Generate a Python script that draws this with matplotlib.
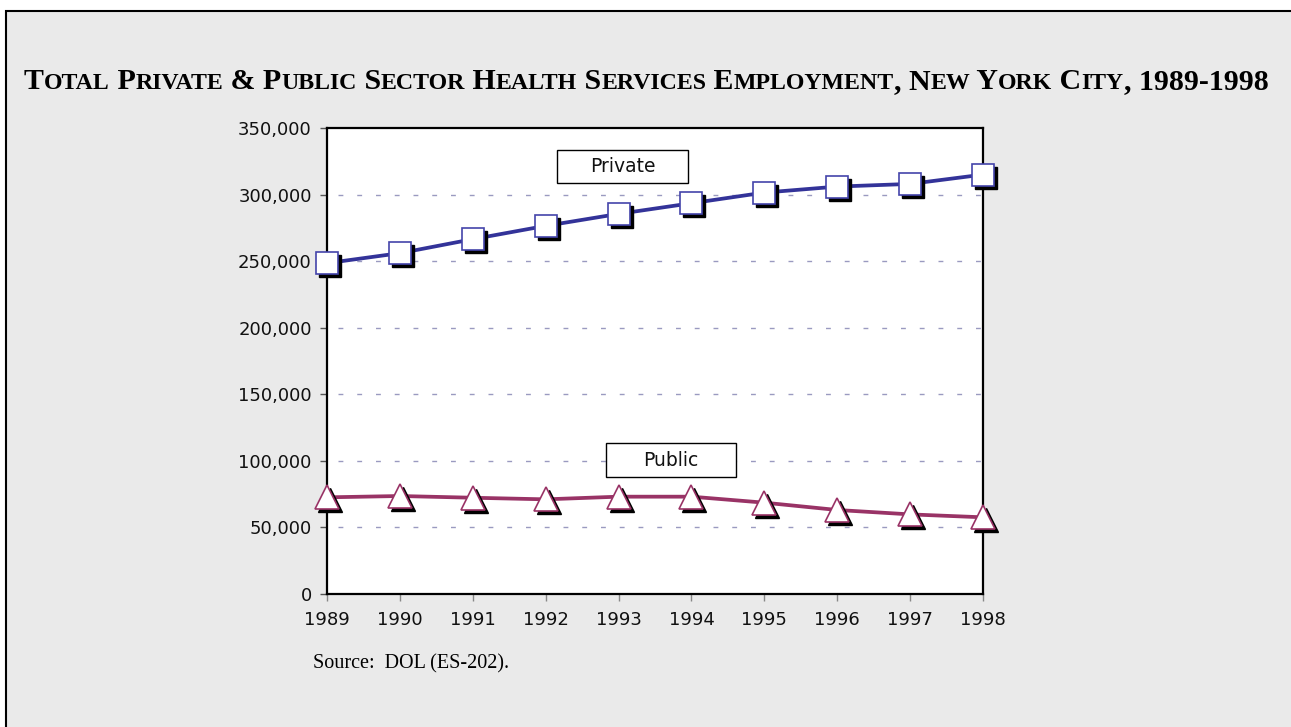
import matplotlib
matplotlib.use('Agg')
import matplotlib.pyplot as plt
import matplotlib.patches as mpatches
import matplotlib.transforms as mtransforms
from matplotlib.ticker import FuncFormatter

# ── Colors ──
C_PRIV = '#333399'
C_PUB = '#993366'
C_BG = '#EAEAEA'
C_GRID = '#9A9AC0'

# ── Data ──
years = [1989, 1990, 1991, 1992, 1993, 1994, 1995, 1996, 1997, 1998]
private = [248500, 256000, 266500, 276500, 285500, 293500, 301500, 306000, 308000, 315000]
public = [72600, 73600, 72300, 71100, 73100, 73100, 68600, 63100, 59800, 57600]
yticks = [0, 50000, 100000, 150000, 200000, 250000, 300000, 350000]

W, H = 1291, 727
fig = plt.figure(figsize=(W / 100, H / 100), dpi=100)
fig.patch.set_facecolor('white')

# grey page frame (only top/left edges visible)
frame = mpatches.Rectangle((5.5 / W, -0.05), 1.2, 716.5 / H + 0.05,
                           transform=fig.transFigure, facecolor=C_BG,
                           edgecolor='black', linewidth=1.5, zorder=0)
fig.add_artist(frame)

# ── Title in small caps, built run by run ──
title = 'Total Private & Public Sector Health Services Employment, New York City, 1989-1998'
runs = []
for ch in title:
    small = ch.islower()
    if runs and runs[-1][1] == small:
        runs[-1][0] += ch
    else:
        runs.append([ch, small])

BIG, SMALL = 21.5, 17.2
base_y = H - 89
prev = None
for txt, small in runs:
    kw = dict(fontsize=SMALL if small else BIG, fontweight='bold',
              family='Liberation Serif', color='black', va='baseline', ha='left')
    if prev is None:
        prev = fig.text(24 / W, base_y / H, txt.upper(), **kw)
    else:
        prev = fig.add_artist(plt.Annotation(txt.upper(), xy=(1, base_y),
                                             xycoords=(prev, 'figure pixels'), **kw))

# ── Axes ──
ax = fig.add_axes([327 / W, 133 / H, 656 / W, 466 / H])
ax.set_facecolor('white')
ax.set_xlim(1989, 1998)
ax.set_ylim(0, 350000)

ax.set_yticks(yticks)
ax.yaxis.set_major_formatter(FuncFormatter(lambda v, p: f'{v:,.0f}'))
ax.set_xticks(years)
ax.tick_params(axis='y', length=5, width=1, color='#555555', pad=6,
               labelsize=13, labelcolor='#111111')
ax.tick_params(axis='x', length=5, width=1, color='#888888', pad=7,
               labelsize=13, labelcolor='#111111')
for lab in ax.get_xticklabels() + ax.get_yticklabels():
    lab.set_family('DejaVu Sans')

for s in ax.spines.values():
    s.set_color('black')
    s.set_linewidth(1.6)

for v in yticks[1:-1]:
    ax.plot([1989.15, 1998], [v, v], color=C_GRID, lw=1,
            linestyle=(0, (3.5, 10)), zorder=1)

shadow = mtransforms.offset_copy(ax.transData, fig=fig, x=3, y=-3, units='dots')

# Private
ax.plot(years, private, color=C_PRIV, lw=2.7, zorder=3, clip_on=False)
ax.plot(years, private, linestyle='none', marker='s', ms=16.5, mfc='black',
        mec='black', transform=shadow, zorder=4, clip_on=False)
ax.plot(years, private, linestyle='none', marker='s', ms=16.5, mfc='white',
        mec='#4444AA', mew=1.2, zorder=5, clip_on=False)

# Public
ax.plot(years, public, color=C_PUB, lw=2.7, zorder=3, clip_on=False)
ax.plot(years, public, linestyle='none', marker='^', ms=17.5, mfc='black',
        mec='black', transform=shadow, zorder=4, clip_on=False)
ax.plot(years, public, linestyle='none', marker='^', ms=17.5, mfc='white',
        mec=C_PUB, mew=1.2, zorder=5, clip_on=False)

# series label boxes
for (x0, y0, w, h), name in [((0.3506, 0.882, 0.1997, 0.0708), 'Private'),
                             ((0.4253, 0.251, 0.198, 0.073), 'Public')]:
    ax.add_patch(mpatches.Rectangle((x0, y0), w, h, transform=ax.transAxes,
                                    facecolor='white', edgecolor='black',
                                    lw=1, zorder=6))
    ax.text(x0 + w / 2, y0 + h / 2, name, transform=ax.transAxes,
            ha='center', va='center', fontsize=13.5, color='#111111',
            family='DejaVu Sans', zorder=7)

fig.text(313 / W, (H - 668) / H, 'Source:  DOL (ES-202).', fontsize=14.5,
         family='Liberation Serif', color='black', va='baseline', ha='left')

fig.savefig('out.png', dpi=100)
